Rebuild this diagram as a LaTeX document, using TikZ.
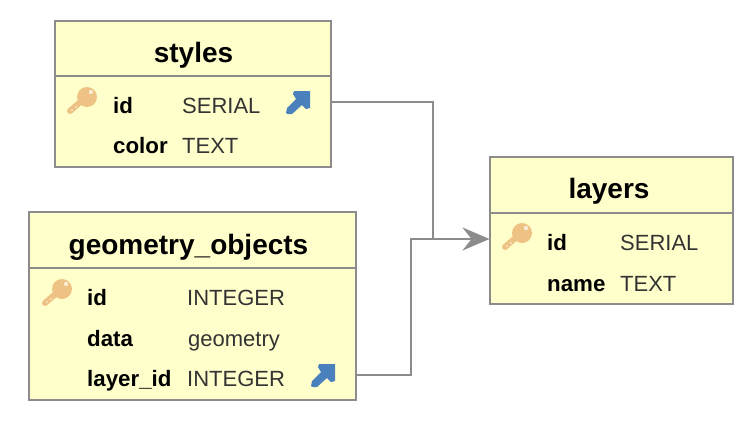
\documentclass[tikz,border=0pt]{standalone}
\usepackage{fontspec}
\setmainfont{Liberation Sans}
\usetikzlibrary{arrows.meta}
\definecolor{boxfill}{HTML}{FFFFCC}
\definecolor{boxline}{HTML}{8C8C8C}
\definecolor{keycol}{HTML}{EDC283}
\definecolor{fkcol}{HTML}{4A80BC}
\tikzset{
  x=1pt,y=-1pt,
  tablebox/.style={draw=boxline,fill=boxfill,line width=2pt,inner sep=0pt,outer sep=0pt,anchor=north west},
  divider/.style={draw=boxline,line width=1.5pt},
  title/.style={font=\fontsize{28}{30}\selectfont\bfseries,anchor=base,inner sep=0pt},
  colname/.style={font=\fontsize{22.3}{25}\selectfont\bfseries,anchor=base west,inner sep=0pt},
  coltype/.style={font=\fontsize{22}{25}\selectfont,anchor=base west,inner sep=0pt,text=black!80},
  link/.style={draw=boxline,line width=2pt},
  linkarrow/.style={link,-{Stealth[length=27pt,width=23pt,inset=9pt]}},
  pics/pkkey/.style={code={
    \draw[keycol,line width=6pt,line cap=round] (-12,10) -- (3,-3);
    \fill[keycol] (5,-4) circle (10);
    \fill[white!65!keycol] (9,-9) circle (2.2);
    \fill[white!55!keycol] (-10,9) circle (1.2);
    \fill[white!55!keycol] (-6,6) circle (1.2);
  }},
  pics/fkarrow/.style={code={
    \fill[fkcol] (-12,10) -- (-11,5) -- (-2,-4) -- (-5,-9) -- (-4,-12) -- (12,-12) -- (12,5) -- (8,6) -- (4,2) -- (-6,11) -- (-10,11) -- cycle;
  }}
}
\begin{document}
\begin{tikzpicture}
\useasboundingbox (0,0) rectangle (755,429);
% styles
\node[tablebox,minimum width=276pt,minimum height=146pt] (styles) at (54.5,20.5) {};
\draw[divider] (55,76) -- (330,76);
\node[title] (stylestitle) at (193.5,62) {styles};
\pic at (82,101) {pkkey};
\node[colname] (stylesid) at (113,113) {id};
\node[coltype] (stylesidt) at (182,113) {SERIAL};
\pic at (298,103) {fkarrow};
\node[colname] (stylescolor) at (113,153) {color};
\node[coltype] (stylescolort) at (182,153) {TEXT};
% geometry_objects
\node[tablebox,minimum width=327pt,minimum height=188pt] (geom) at (28.5,211.5) {};
\draw[divider] (29,268) -- (355,268);
\node[title] (geomtitle) at (188.5,254) {geometry\_objects};
\pic at (57,293) {pkkey};
\node[colname] (geomid) at (87,305) {id};
\node[coltype] (geomidt) at (187,305) {INTEGER};
\node[colname] (geomdata) at (87,346) {data};
\node[coltype] (geomdatat) at (188,346) {geometry};
\node[colname] (geomlayer) at (87,386) {layer\_id};
\node[coltype] (geomlayert) at (187,386) {INTEGER};
\pic at (323,376) {fkarrow};
% layers
\node[tablebox,minimum width=243pt,minimum height=147pt] (layers) at (489.5,156.5) {};
\draw[divider] (490,213) -- (732,213);
\node[title] (layerstitle) at (609,198) {layers};
\pic at (517,237) {pkkey};
\node[colname] (layersid) at (547,250) {id};
\node[coltype] (layersidt) at (620,250) {SERIAL};
\node[colname] (layersname) at (547,291) {name};
\node[coltype] (layersnamet) at (620,291) {TEXT};
% connectors
\coordinate (stylesout) at (styles.east |- 0,102);
\coordinate (geomout) at (geom.east |- 0,375);
\coordinate (layersin) at (layers.west |- 0,239);
\draw[link] (stylesout) -| (433,239);
\draw[linkarrow] (geomout) -| (411,239) -- (layersin);
\end{tikzpicture}
\end{document}
